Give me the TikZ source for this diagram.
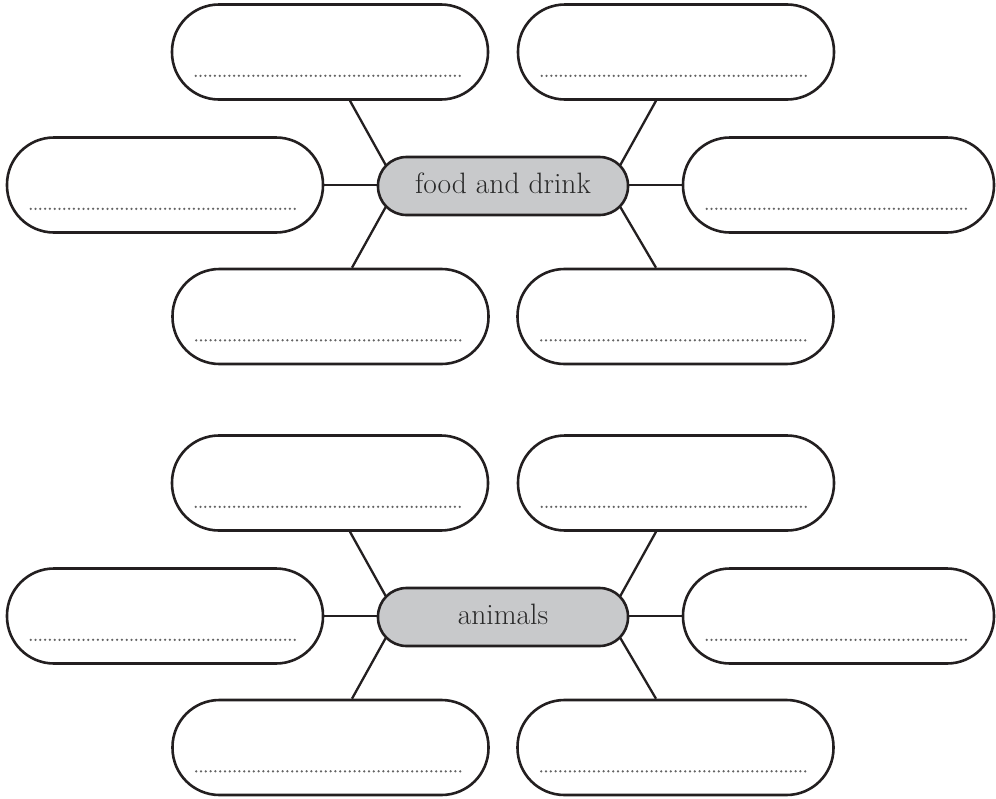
\documentclass[tikz,border=0pt]{standalone}
\usetikzlibrary{calc}
\definecolor{ink}{RGB}{35,31,32}
\definecolor{hubfill}{RGB}{200,201,203}
\definecolor{hubtext}{RGB}{40,40,40}
\definecolor{dotgray}{RGB}{100,100,100}
\tikzset{
  blank/.style={draw=ink, line width=2.6pt, fill=white, rectangle, rounded corners=47pt,
    minimum width=316pt, minimum height=95pt, inner sep=0pt},
  hub/.style={draw=ink, line width=2.6pt, fill=hubfill, rectangle, rounded corners=28.5pt,
    minimum width=250pt, minimum height=58pt, inner sep=0pt, text=hubtext,
    font=\fontsize{29.5}{32}\selectfont, text height=20pt, text depth=5pt},
  link/.style={draw=ink, line width=2.3pt},
  writeline/.style={draw=dotgray, line width=2.5pt, line cap=round, dash pattern=on 0pt off 4.8pt}
}
\newcommand{\drawmap}[3]{%
  \node[hub] (#1C) at (503,#2+186) {#3};
  \node[blank] (#1TL) at (330,#2+52) {};
  \node[blank] (#1TR) at (676,#2+52) {};
  \node[blank] (#1L) at (165,#2+185) {};
  \node[blank, minimum width=311pt] (#1R) at (838.5,#2+185) {};
  \node[blank] (#1BL) at (330.5,#2+316.5) {};
  \node[blank] (#1BR) at (675.5,#2+316.5) {};
  \foreach \b in {TL,TR,L,R,BL,BR}{
    \draw[writeline] ($(#1\b.south west)+(25,-25)$) -- ($(#1\b.south east)+(-25,-25)$);
  }
  \draw[link] (#1L.east) -- (#1L.east -| #1C.west);
  \draw[link] (#1R.west) -- (#1R.west -| #1C.east);
  \draw[link] ($(#1TL.south)+(20,0)$) -- ($(#1C.west)+(9,-21)$);
  \draw[link] ($(#1TR.south)+(-20,0)$) -- ($(#1C.east)+(-9,-21)$);
  \draw[link] ($(#1BL.north)+(21.5,0)$) -- ($(#1C.west)+(9,21)$);
  \draw[link] ($(#1BR.north)+(-19.5,0)$) -- ($(#1C.east)+(-9,21)$);
}
\begin{document}
\begin{tikzpicture}[x=1pt,y=-1pt]
  \path[use as bounding box] (0,0) rectangle (996,798);
  \drawmap{a}{0}{food and drink}
  \drawmap{b}{431}{animals}
\end{tikzpicture}
\end{document}
